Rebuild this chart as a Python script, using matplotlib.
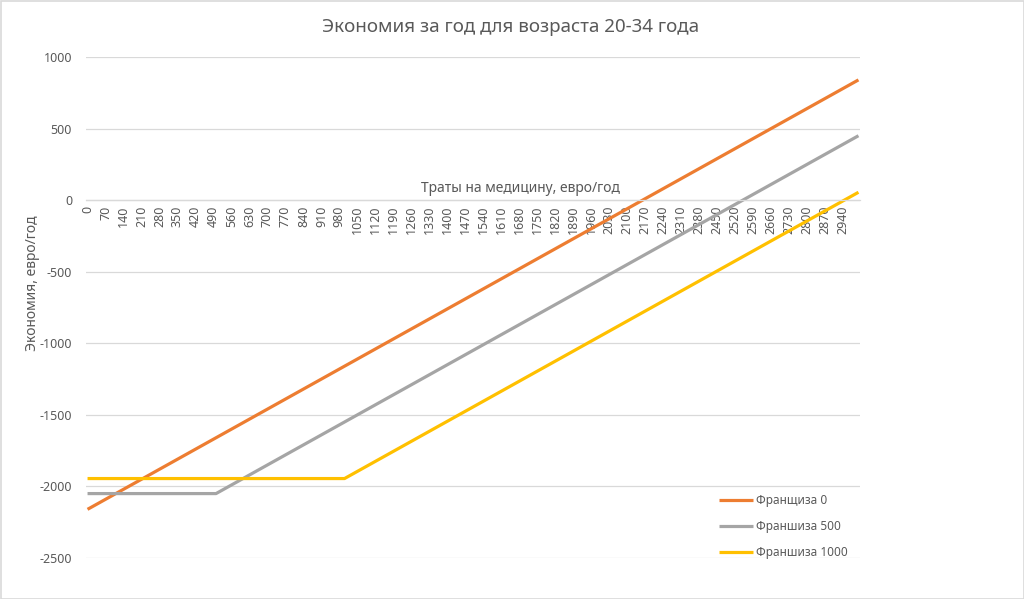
import matplotlib
matplotlib.use("Agg")
import matplotlib.pyplot as plt
from matplotlib.patches import Rectangle

plt.rcParams['font.family'] = ['Noto Sans', 'DejaVu Sans']

# Data (vertices of piecewise-linear series)
x_f0 = [0, 3000]
y_f0 = [-2160, 840]
x_f500 = [0, 500, 3000]
y_f500 = [-2050, -2050, 450]
x_f1000 = [0, 1000, 3000]
y_f1000 = [-1945, -1945, 55]

series_labels = ["Франщиза 0", "Франшиза 500", "Франшиза 1000"]
x_ticks = list(range(0, 2941, 70))
y_ticks = [-2500, -2000, -1500, -1000, -500, 0, 500, 1000]

title = "Экономия за год для возраста 20-34 года"
x_title = "Траты на медицину, евро/год"
y_title = "Экономия, евро/год"

TXT = "#595959"
GRID = "#D9D9D9"

fig = plt.figure(figsize=(10.24, 5.99), dpi=100)
ax = fig.add_axes([86/1024, 41/599, 774/1024, 501/599])

ax.plot(x_f0, y_f0, color="#ED7D31", lw=2.3, label=series_labels[0], solid_capstyle="butt")
ax.plot(x_f500, y_f500, color="#A5A5A5", lw=2.3, label=series_labels[1], solid_capstyle="butt")
ax.plot(x_f1000, y_f1000, color="#FFC000", lw=2.3, label=series_labels[2], solid_capstyle="butt")

ax.set_xlim(-6, 3006)
ax.set_ylim(-2500, 1000)
ax.set_yticks(y_ticks)
ax.set_yticklabels([str(v) for v in y_ticks])
ax.set_xticks(x_ticks)
ax.set_xticklabels([str(v) for v in x_ticks])

ax.yaxis.grid(True, color=GRID, lw=0.9)
ax.set_axisbelow(True)
for s in ["top", "right", "left"]:
    ax.spines[s].set_visible(False)
ax.spines["bottom"].set_position(("data", 0))
ax.spines["bottom"].set_color(GRID)
ax.spines["bottom"].set_linewidth(0.9)

ax.tick_params(axis="x", length=0, pad=4, labelsize=9, labelcolor=TXT, labelrotation=90)
ax.tick_params(axis="y", length=0, pad=10, labelsize=9, labelcolor=TXT)

fig.text(511/1024, 1 - 27/599, title, ha="center", va="center", fontsize=13.5, color=TXT)
fig.text(520/1024, 1 - 188/599, x_title, ha="center", va="center", fontsize=10, color=TXT)
fig.text(33/1024, 1 - 283/599, y_title, ha="center", va="center", fontsize=10, color=TXT, rotation=90)

leg = ax.legend(loc="upper left", bbox_to_anchor=(714/1024, 1 - 489/599), bbox_transform=fig.transFigure,
                frameon=False, fontsize=8.5, handlelength=2.9, handletextpad=0.3, labelspacing=1.12,
                borderaxespad=0)
for t in leg.get_texts():
    t.set_color(TXT)

fig.patches.append(Rectangle((0.5/1024, 0.5/599), 1 - 1/1024, 1 - 1/599, transform=fig.transFigure,
                             fill=False, edgecolor=GRID, lw=1.2))

fig.savefig("out.png", dpi=100)
